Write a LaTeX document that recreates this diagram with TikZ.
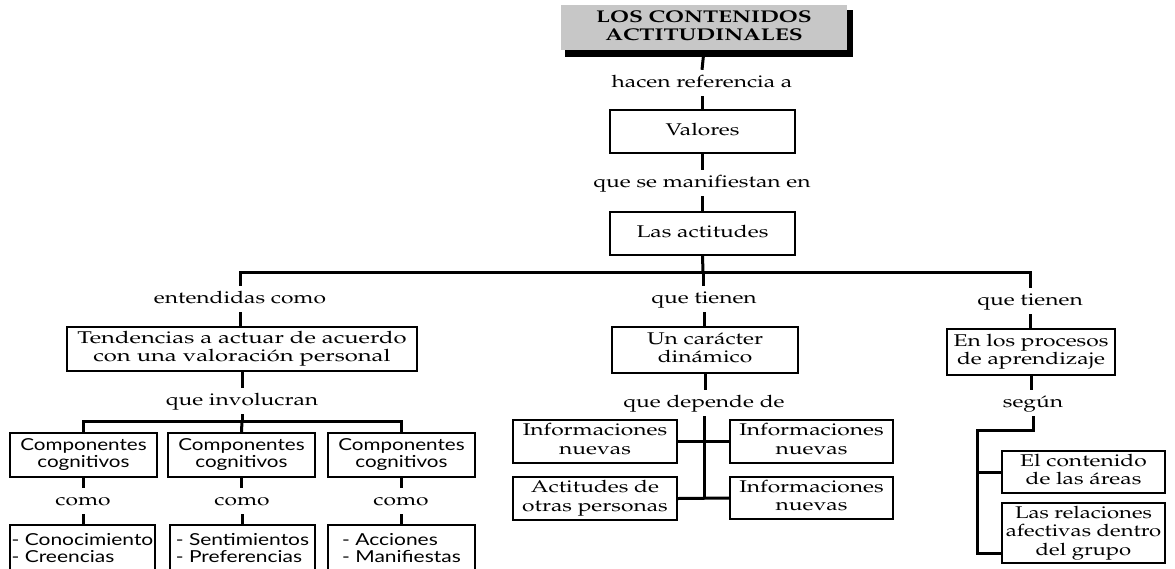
\documentclass[tikz,border=0pt]{standalone}
\usepackage{fontspec}
\usepackage[T1]{fontenc}
\usepackage{mathpazo}
\usepackage{graphicx}
\newfontfamily\optfont{Lato}
% wide set text: centred block, left block, single line
\newcommand\hs[2][1.34]{\scalebox{#1}[1]{\begin{tabular}{@{}c@{}}#2\end{tabular}}}
\newcommand\hsl[2][1.27]{\scalebox{#1}[1]{\begin{tabular}{@{}l@{}}#2\end{tabular}}}
\newcommand\hw[1]{\scalebox{1.34}[1]{#1}}
\begin{document}
\begin{tikzpicture}[x=1pt,y=-1pt,
  conn/.style={line width=3pt},
  box/.style={draw,line width=2.2pt,inner sep=0pt,align=center,
    font=\fontsize{17}{18.5}\selectfont},
  sbox/.style={draw,line width=2.2pt,inner sep=0pt,align=center,
    font=\optfont\fontsize{16.5}{15}\selectfont},
  lbl/.style={anchor=base,inner sep=5pt,text height=12pt,text depth=4pt,
    font=\fontsize{17}{18.5}\selectfont},
]
\useasboundingbox (0,0) rectangle (1175,568);

% title with drop shadow
\fill[black] (565,10) rectangle (853,57);
\node[fill=black!22,inner sep=0pt,minimum width=286pt,minimum height=45pt,
  font=\fontsize{17}{18}\selectfont\bfseries] (title) at (704,27.5)
  {\hs{LOS CONTENIDOS\\ACTITUDINALES}};

% upper spine
\node[lbl] (hacen) at (702,87) {\hw{hacen referencia a}};
\node[box,minimum width=185pt,minimum height=43pt] (valores) at (702.5,131.5) {\hs{Valores}};
\node[lbl] (manif) at (702,187) {\hw{que se manifiestan en}};
\node[box,minimum width=185pt,minimum height=43pt] (actitudes) at (702.5,233.5) {\hs{Las actitudes}};

% left branch
\node[lbl] (entend) at (240,303) {\hw{entendidas como}};
\node[box,minimum width=350pt,minimum height=44pt] (tendencias) at (242,349)
  {\hs[1.40]{Tendencias a actuar de acuerdo\\con una valoraci\'on personal}};
\node[lbl] (involuc) at (242,405) {\hw{que involucran}};
\node[sbox,minimum width=147pt,minimum height=44pt] (comp1) at (83.5,455) {\hs[1.25]{Componentes\\cognitivos}};
\node[sbox,minimum width=147pt,minimum height=44pt] (comp2) at (241.5,455) {\hs[1.25]{Componentes\\cognitivos}};
\node[sbox,minimum width=147pt,minimum height=44pt] (comp3) at (401.5,455) {\hs[1.25]{Componentes\\cognitivos}};
\node[lbl] (como1) at (83,505) {\hw{como}};
\node[lbl] (como2) at (242,505) {\hw{como}};
\node[lbl] (como3) at (401,505) {\hw{como}};
\node[sbox,minimum width=145pt,minimum height=50pt] (list1) at (82.5,550) {\hsl{- Conocimiento\\- Creencias}};
\node[sbox,minimum width=145pt,minimum height=50pt] (list2) at (242.5,550) {\hsl{- Sentimientos\\- Preferencias}};
\node[sbox,minimum width=147pt,minimum height=50pt] (list3) at (401.5,550) {\hsl{- Acciones\\- Manifiestas}};

% middle branch
\node[lbl] (tienenM) at (704,303) {\hw{que tienen}};
\node[box,minimum width=186pt,minimum height=46pt] (dinamico) at (705,350) {\hs{Un car\'acter\\din\'amico}};
\node[lbl] (depende) at (704,407) {\hw{que depende de}};
\node[box,minimum width=164pt,minimum height=43pt] (info1) at (595,441.5) {\hs{Informaciones\\nuevas}};
\node[box,minimum width=164pt,minimum height=43pt] (actotras) at (595,498.5) {\hs{Actitudes de\\otras personas}};
\node[box,minimum width=163pt,minimum height=43pt] (info2) at (811.5,441.5) {\hs{Informaciones\\nuevas}};
\node[box,minimum width=163pt,minimum height=42pt] (info3) at (811.5,498) {\hs{Informaciones\\nuevas}};

% right branch
\node[lbl] (tienenR) at (1030,305) {\hw{que tienen}};
\node[box,minimum width=168pt,minimum height=46pt] (procesos) at (1031,352) {\hs{En los procesos\\de aprendizaje}};
\node[lbl] (segun) at (1033,407) {\hw{seg\'un}};
\node[box,minimum width=163pt,minimum height=42pt] (contenido) at (1083.5,472) {\hs{El contenido\\de las \'areas}};
\node[box,minimum width=163pt,minimum height=60pt] (relaciones) at (1083.5,533) {\hs[1.3]{Las relaciones\\afectivas dentro\\del grupo}};

% connectors
\draw[conn] (title.south) -- (hacen.north);
\draw[conn] (hacen.south) -- (hacen.south |- valores.north);
\draw[conn] (valores.south) -- (valores.south |- manif.north);
\draw[conn] (manif.south) -- (manif.south |- actitudes.north);
\coordinate (J) at (703,272);
\draw[conn] (actitudes.south) -- (J);
\draw[conn] (entend.north) |- (J) -| (tienenR.north);
\draw[conn] (J) -- (J |- tienenM.north);

\draw[conn] (entend.south) -- (entend.south |- tendencias.north);
\draw[conn] (tendencias.south) -- (tendencias.south |- involuc.north);
\coordinate (K) at (242,421);
\draw[conn] (involuc.south) -- (K);
\draw[conn] (comp1.north) |- (K) -| (comp3.north);
\draw[conn] (K) -- (comp2.north);
\foreach \i in {1,2,3}{
  \draw[conn] (comp\i.south) -- (comp\i.south |- como\i.north);
  \draw[conn] (como\i.south) -- (como\i.south |- list\i.north);
}

\draw[conn] (tienenM.south) -- (tienenM.south |- dinamico.north);
\draw[conn] (dinamico.south) -- (dinamico.south |- depende.north);
\draw[conn] (depende.south) -- (depende.south |- actotras.east);
\draw[conn] (info1.east) -- (info2.west);
\draw[conn] (actotras.east) -- (info3.west);

\draw[conn] (tienenR.south) -- (tienenR.south |- procesos.north);
\draw[conn] (procesos.south) -- (procesos.south |- segun.north);
\coordinate (S1) at (977,430);
\coordinate (S2) at (977,553);
\draw[conn] (segun.south) |- (S1) -- (S2) -- (S2 -| relaciones.west);
\draw[conn] (S1 |- contenido.west) -- (contenido.west);
\end{tikzpicture}
\end{document}
